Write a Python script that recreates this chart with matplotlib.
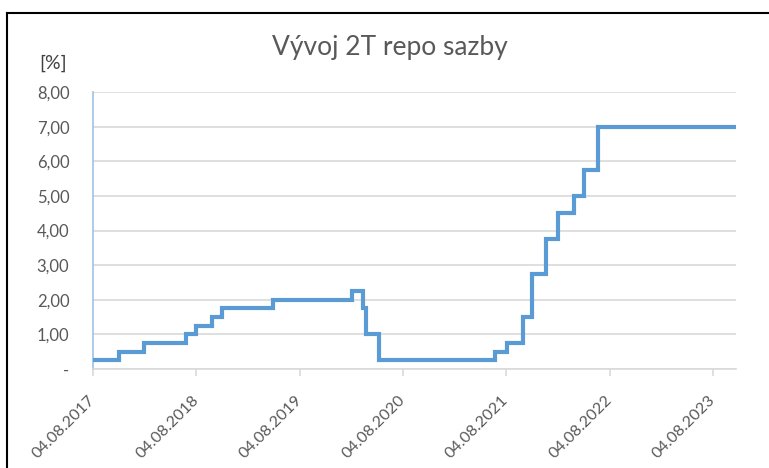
import numpy as np
import pandas as pd
import matplotlib
matplotlib.use("Agg")
import matplotlib.pyplot as plt
import matplotlib.dates as mdates
from matplotlib.lines import Line2D

plt.rcParams['font.family'] = ['Lato', 'DejaVu Sans']

# dates when the 2T repo rate changed (CNB), rate valid from that date
change_dates = ["2017-08-04", "2017-11-03", "2018-02-02", "2018-06-28", "2018-08-03",
                "2018-09-27", "2018-11-02", "2019-05-03", "2020-02-07", "2020-03-17",
                "2020-03-27", "2020-05-11", "2021-06-24", "2021-08-06", "2021-10-01",
                "2021-11-04", "2021-12-23", "2022-02-04", "2022-03-31", "2022-05-06",
                "2022-06-23", "2023-10-25"]
rates = [0.25, 0.50, 0.75, 1.00, 1.25, 1.50, 1.75, 2.00, 2.25, 1.75, 1.00, 0.25,
         0.50, 0.75, 1.50, 2.75, 3.75, 4.50, 5.00, 5.75, 7.00, 7.00]
tick_dates = ["2017-08-04", "2018-08-04", "2019-08-04", "2020-08-04",
              "2021-08-04", "2022-08-04", "2023-08-04"]
y_ticks = [0, 1, 2, 3, 4, 5, 6, 7, 8]

dates = pd.to_datetime(change_dates)
ticks = pd.to_datetime(tick_dates)

text_c = '#595959'
grid_c = '#D9D9D9'
line_c = '#5B9BD5'

fig = plt.figure(figsize=(7.69, 4.68), dpi=100)
ax = fig.add_axes([93 / 769, 1 - 369 / 468, (736 - 93) / 769, (369 - 92) / 468])

ax.step(dates, rates, where='post', color=line_c, lw=3, solid_joinstyle='miter', zorder=3)

ax.set_xlim(dates[0], dates[-1])
ax.set_ylim(0, 8)
ax.set_yticks(y_ticks)
ax.set_yticklabels(['-'] + [f"{v:.2f}".replace('.', ',') for v in y_ticks[1:]])
ax.yaxis.grid(True, color=grid_c, lw=1.2)
ax.set_axisbelow(True)

ax.set_xticks(ticks)
ax.set_xticklabels([d.strftime('%d.%m.%Y') for d in ticks], rotation=45,
                   ha='right', va='center', rotation_mode='anchor')

for s in ['top', 'right']:
    ax.spines[s].set_visible(False)
ax.spines['bottom'].set_color(grid_c)
ax.spines['bottom'].set_linewidth(1.2)
ax.spines['left'].set_color('#9DC3E6')
ax.spines['left'].set_linewidth(1.2)

ax.tick_params(axis='y', length=0, pad=17, labelsize=12, labelcolor=text_c)
ax.tick_params(axis='x', length=5, width=1.2, color=grid_c, pad=16,
               labelsize=11.5, labelcolor=text_c)

fig.text(390 / 769, 1 - 47 / 468, "Vývoj 2T repo sazby", ha='center', va='center',
         fontsize=19, color=text_c)
fig.text(53 / 769, 1 - 63 / 468, "[%]", ha='center', va='center',
         fontsize=14, color='#404040')

# chart border (top and left visible)
fig.add_artist(Line2D([7 / 769, 1], [1 - 13 / 468, 1 - 13 / 468], color='black', lw=1.5))
fig.add_artist(Line2D([7 / 769, 7 / 769], [0, 1 - 13 / 468], color='black', lw=1.5))

fig.savefig("out.png", dpi=100)
